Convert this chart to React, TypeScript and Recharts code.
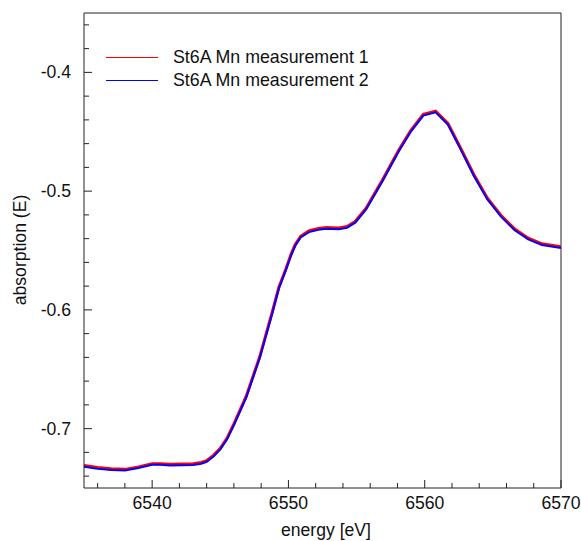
import { LineChart, Line, XAxis, YAxis, ReferenceLine, Legend } from 'recharts';

const energy = [
  6535.0, 6536.0, 6537.0, 6538.0, 6539.0, 6540.0, 6540.6, 6541.3, 6542.2, 6543.0,
  6543.6, 6544.0, 6544.5, 6545.0, 6545.5, 6546.0, 6546.9, 6547.9, 6548.8, 6549.3,
  6549.8, 6550.2, 6550.5, 6550.9, 6551.5, 6552.2, 6552.8, 6553.7, 6554.3, 6554.9,
  6555.7, 6556.9, 6558.1, 6559.0, 6559.9, 6560.8, 6561.7, 6562.6, 6563.6, 6564.6,
  6565.6, 6566.6, 6567.6, 6568.6, 6570.0,
];

const measurement1 = [
  -0.7310, -0.7328, -0.7338, -0.7343, -0.7322, -0.7295, -0.7295, -0.7301, -0.7298, -0.7296,
  -0.7285, -0.7270, -0.7225, -0.7165, -0.7080, -0.6960, -0.6729, -0.6393, -0.6024, -0.5810,
  -0.5660, -0.5530, -0.5450, -0.5380, -0.5335, -0.5315, -0.5307, -0.5310, -0.5298, -0.5256,
  -0.5144, -0.4906, -0.4654, -0.4486, -0.4354, -0.4326, -0.4430, -0.4630, -0.4860, -0.5060,
  -0.5205, -0.5320, -0.5396, -0.5444, -0.5468,
];

const measurement2 = [
  -0.7320, -0.7338, -0.7348, -0.7353, -0.7332, -0.7305, -0.7305, -0.7311, -0.7308, -0.7306,
  -0.7295, -0.7280, -0.7235, -0.7175, -0.7090, -0.6970, -0.6739, -0.6403, -0.6034, -0.5820,
  -0.5670, -0.5540, -0.5460, -0.5390, -0.5345, -0.5325, -0.5317, -0.5320, -0.5308, -0.5266,
  -0.5154, -0.4916, -0.4664, -0.4496, -0.4364, -0.4336, -0.4440, -0.4640, -0.4870, -0.5070,
  -0.5215, -0.5330, -0.5406, -0.5454, -0.5478,
];

const xTicks = [6536, 6538, 6540, 6542, 6544, 6546, 6548, 6550, 6552, 6554, 6556, 6558, 6560, 6562, 6564, 6566, 6568, 6570];
const xLabels = [6540, 6550, 6560, 6570];
const yTicks = [-0.74, -0.72, -0.7, -0.68, -0.66, -0.64, -0.62, -0.6, -0.58, -0.56, -0.54, -0.52, -0.5, -0.48, -0.46, -0.44, -0.42, -0.4, -0.38, -0.36];
const yLabels = [-0.7, -0.6, -0.5, -0.4];

const seriesNames = ['St6A Mn measurement 1', 'St6A Mn measurement 2'];
const seriesColors = ['#ff0000', '#0000ff'];

const FONT = '"Liberation Sans", Arial, sans-serif';

const data = energy.map((e, i) => ({
  e,
  m1: measurement1[i],
  m2: measurement2[i],
}));

const isLabel = (list: number[], v: number) => list.some((l) => Math.abs(l - v) < 1e-6);

const XTick = (props: any) => {
  const { x, y, payload } = props;
  const major = isLabel(xLabels, payload.value);
  return (
    <g>
      <line x1={x} x2={x} y1={y} y2={y - (major ? 8 : 5)} stroke="#222" strokeWidth={1} />
      {major && (
        <text x={x} y={y + 21} textAnchor="middle" fontSize={17.6} fontFamily={FONT} fill="#111">
          {payload.value}
        </text>
      )}
    </g>
  );
};

const YTick = (props: any) => {
  const { x, y, payload } = props;
  const major = isLabel(yLabels, payload.value);
  return (
    <g>
      <line x1={x} x2={x + (major ? 8 : 5)} y1={y} y2={y} stroke="#222" strokeWidth={1} />
      {major && (
        <text x={x - 13} y={y + 6} textAnchor="end" fontSize={17.6} fontFamily={FONT} fill="#111">
          {payload.value.toFixed(1)}
        </text>
      )}
    </g>
  );
};

const LegendBox = () => (
  <div style={{ fontFamily: FONT, fontSize: 17.8, color: '#111' }}>
    {seriesNames.map((name, i) => (
      <div key={name} style={{ display: 'flex', alignItems: 'center', height: 23.4 }}>
        <svg width={52} height={3} style={{ marginRight: 15 }}>
          <line x1={0} x2={52} y1={1.5} y2={1.5} stroke={seriesColors[i]} strokeWidth={1} />
        </svg>
        <span>{name}</span>
      </div>
    ))}
  </div>
);

export default function App() {
  return (
    <div style={{ width: 581, height: 541, position: 'relative', background: '#fff' }}>
      <style>{'body{margin:0}'}</style>
      <LineChart width={581} height={541} data={data} margin={{ top: 13, right: 20, left: 0, bottom: 0 }}>
        <XAxis
          dataKey="e"
          type="number"
          domain={[6535, 6570]}
          ticks={xTicks}
          allowDataOverflow
          height={53}
          tickSize={0}
          tickMargin={0}
          tickLine={false}
          tick={XTick}
          stroke="#222"
          interval={0}
          label={{
            content: () => (
              <text x={326} y={536} textAnchor="middle" fontSize={17.6} fontFamily={FONT} fill="#111">
                energy [eV]
              </text>
            ),
          }}
        />
        <YAxis
          type="number"
          domain={[-0.75, -0.35]}
          ticks={yTicks}
          allowDataOverflow
          width={84}
          tickSize={0}
          tickMargin={0}
          tickLine={false}
          tick={YTick}
          stroke="#222"
          interval={0}
          label={{
            content: () => (
              <text
                x={20}
                y={250}
                textAnchor="middle"
                dominantBaseline="central"
                transform="rotate(-90 20 250)"
                fontSize={17.6}
                fontFamily={FONT}
                fill="#111"
              >
                absorption (E)
              </text>
            ),
          }}
        />
        <ReferenceLine y={-0.35} stroke="#222" strokeWidth={1} />
        <ReferenceLine x={6570} stroke="#222" strokeWidth={1} />
        <Legend
          layout="vertical"
          verticalAlign="middle"
          align="center"
          content={LegendBox}
          wrapperStyle={{ top: 45.6, left: 106, width: 'auto', height: 'auto' }}
        />
        <Line
          type="linear"
          dataKey="m1"
          name={seriesNames[0]}
          stroke={seriesColors[0]}
          strokeWidth={3}
          dot={false}
          isAnimationActive={false}
        />
        <Line
          type="linear"
          dataKey="m2"
          name={seriesNames[1]}
          stroke={seriesColors[1]}
          strokeWidth={2}
          dot={false}
          isAnimationActive={false}
        />
      </LineChart>
    </div>
  );
}
